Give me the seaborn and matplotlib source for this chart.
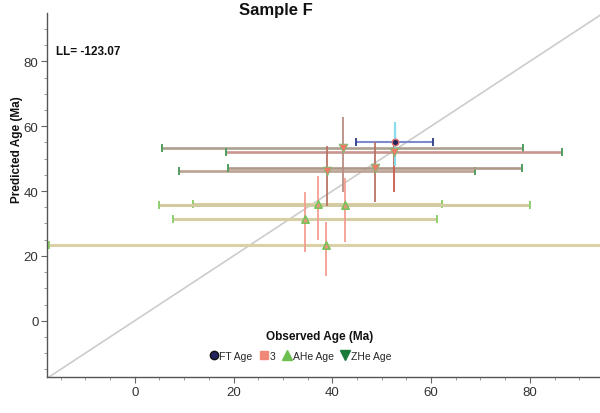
import matplotlib
matplotlib.use("Agg")
import matplotlib.pyplot as plt
from matplotlib.lines import Line2D
from matplotlib.ticker import MultipleLocator
import numpy as np
import pandas as pd
import seaborn as sns

sns.set_style("ticks")
plt.rcParams["font.family"] = ["Liberation Sans", "DejaVu Sans"]

# Fission-track age
ft_obs = [52.6]
ft_obs_err = [7.8]
ft_pred = [55.2]
ft_pred_lo = [47.8]
ft_pred_hi = [61.2]

# Apatite (U-Th)/He ages
ahe_obs = [34.4, 37.1, 42.5, 38.8]
ahe_obs_err = [26.7, 25.2, 37.5, 56.2]
ahe_pred = [31.5, 36.0, 35.6, 23.3]
ahe_pred_lo = [21.3, 25.0, 24.4, 13.9]
ahe_pred_hi = [39.6, 44.7, 43.9, 30.4]

# Zircon (U-Th)/He ages
zhe_obs = [42.1, 52.5, 38.9, 48.7]
zhe_obs_err = [36.5, 34.1, 30.0, 29.8]
zhe_pred = [53.2, 51.9, 46.3, 47.1]
zhe_pred_lo = [39.6, 39.6, 35.5, 36.5]
zhe_pred_hi = [62.7, 56.0, 54.0, 55.0]

log_likelihood = -123.07
title = "Sample F"
legend_labels = ["FT Age", "3", "AHe Age", "ZHe Age"]

XLIM = (-17.8, 94.2)
YLIM = (-17.45, 94.9)

fig = plt.figure(figsize=(6.0, 4.14), dpi=100)
ax = fig.add_axes([0.078, 0.0862, 0.922, 0.880])
ax.set_xlim(*XLIM)
ax.set_ylim(*YLIM)

# 1:1 reference line
lim = np.array([min(XLIM[0], YLIM[0]), max(XLIM[1], YLIM[1])])
ax.plot(lim, lim, color="#cccccc", lw=1.2, zorder=1)


def hbar(x, y, err, color, capcolor, lw=1.8):
    _, caps, _ = ax.errorbar(x, y, xerr=err, fmt="none", ecolor=color,
                             elinewidth=lw, capsize=3, capthick=1.4, zorder=2)
    for c in caps:
        c.set_color(capcolor)
        c.set_markeredgecolor(capcolor)


def vbar(x, y, lo, hi, color, lw=1.3):
    y = np.asarray(y)
    yerr = [y - np.asarray(lo), np.asarray(hi) - y]
    ax.errorbar(x, y, yerr=yerr, fmt="none", ecolor=color,
                elinewidth=lw, capsize=0, zorder=3)


# observed-age uncertainty (horizontal)
ahe_h_colors = ["#d6cfa6", "#d8d0a4", "#d2cba2", "#dad1a6"]
for i in range(len(ahe_obs)):
    hbar([ahe_obs[i]], [ahe_pred[i]], [ahe_obs_err[i]], ahe_h_colors[i], "#8fd06c", lw=2.2)

zhe_h_colors = ["#ada090", "#c99590", "#bca292", "#ad9888"]
for i in range(len(zhe_obs)):
    hbar([zhe_obs[i]], [zhe_pred[i]], [zhe_obs_err[i]], zhe_h_colors[i], "#4f9e5e", lw=1.9)

hbar(ft_obs, ft_pred, ft_obs_err, "#7e8ace", "#3a4690", lw=1.5)

# predicted-age uncertainty (vertical)
vbar(ahe_obs, ahe_pred, ahe_pred_lo, ahe_pred_hi, "#f39e90")
zhe_v_colors = ["#b98e84", "#c95c4c", "#b97464", "#b97464"]
for i in range(len(zhe_obs)):
    vbar([zhe_obs[i]], [zhe_pred[i]], [zhe_pred_lo[i]], [zhe_pred_hi[i]], zhe_v_colors[i])
vbar(ft_obs, ft_pred, ft_pred_lo, ft_pred_hi, "#8adcec", lw=1.6)

# age markers
ahe_df = pd.DataFrame({"obs": ahe_obs, "pred": ahe_pred})
zhe_df = pd.DataFrame({"obs": zhe_obs, "pred": zhe_pred})
ft_df = pd.DataFrame({"obs": ft_obs, "pred": ft_pred})

sns.scatterplot(data=ahe_df, x="obs", y="pred", marker="^", s=28,
                color="#e8957c", edgecolor="#70c454", linewidth=1.1,
                ax=ax, zorder=5, legend=False)
sns.scatterplot(data=zhe_df, x="obs", y="pred", marker="v", s=38,
                color="#f07868", edgecolor="#80bc74", linewidth=0.7,
                ax=ax, zorder=5, legend=False)
sns.scatterplot(data=ft_df, x="obs", y="pred", marker="o", s=22,
                color="#23235e", edgecolor="#e07070", linewidth=1.0,
                ax=ax, zorder=6, legend=False)

# axes styling
sns.despine(ax=ax)
for side in ("left", "bottom"):
    ax.spines[side].set_color("#555555")
    ax.spines[side].set_linewidth(1.0)
ax.xaxis.set_major_locator(MultipleLocator(20))
ax.xaxis.set_minor_locator(MultipleLocator(5))
ax.yaxis.set_major_locator(MultipleLocator(20))
ax.yaxis.set_minor_locator(MultipleLocator(5))
ax.tick_params(which="major", length=4, width=0.8, color="#666666",
               labelsize=9.5, labelcolor="#333333", pad=2)
ax.tick_params(which="minor", length=2, width=0.6, color="#888888")
ax.set_xlabel("")
ax.set_ylabel("Predicted Age (Ma)", fontsize=8.5, fontweight="bold",
              color="#111111", labelpad=3)
ax.yaxis.set_label_coords(-0.043, 0.627)

fig.text(0.532, 0.187, "Observed Age (Ma)", ha="center", va="center",
         fontsize=8.5, fontweight="bold", color="#111111")
fig.text(0.46, 0.992, title, ha="center", va="top",
         fontsize=12, fontweight="bold", color="#111111")
ax.text(0.016, 0.896, f"LL= {log_likelihood:.2f}", transform=ax.transAxes,
        ha="left", va="center", fontsize=8.5, fontweight="bold",
        color="#111111", family=["Liberation Sans Narrow", "Liberation Sans"])

handles = [
    Line2D([], [], ls="none", marker="o", ms=6, mfc="#23235e", mec="#111111"),
    Line2D([], [], ls="none", marker="s", ms=6, mfc="#f08878", mec="#f08878"),
    Line2D([], [], ls="none", marker="^", ms=7, mfc="#6cc050", mec="#6cc050"),
    Line2D([], [], ls="none", marker="v", ms=7, mfc="#1a7a3a", mec="#1a7a3a"),
]
fig.legend(handles, legend_labels, loc="center", bbox_to_anchor=(0.50, 0.138),
           ncol=4, frameon=False, handletextpad=0.05,
           columnspacing=0.6, handlelength=1.0,
           prop={"family": ["Liberation Sans Narrow", "Liberation Sans"], "size": 7.5})

fig.savefig("out.png", dpi=100)
